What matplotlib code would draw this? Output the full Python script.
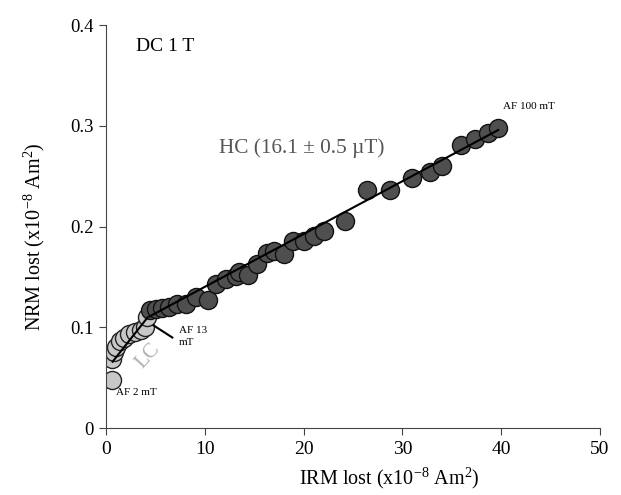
import matplotlib
matplotlib.use("Agg")
import matplotlib.pyplot as plt

plt.rcParams['font.family'] = ['Liberation Serif', 'DejaVu Serif']
plt.rcParams['mathtext.fontset'] = 'custom'
plt.rcParams['mathtext.rm'] = 'Liberation Serif'

# low coercivity steps (AF 2 mT .. AF 13 mT)
lc_irm = [0.6, 0.55, 0.8, 1.0, 1.35, 1.85, 2.35, 2.9, 3.5, 3.9, 4.1]
lc_nrm = [0.048, 0.069, 0.076, 0.081, 0.087, 0.090, 0.093, 0.095, 0.097, 0.100, 0.110]

# high coercivity steps (AF 13 mT .. AF 100 mT)
hc_irm = [4.4, 5.05, 5.7, 6.4, 7.2, 8.1, 9.1, 10.3, 11.1, 12.1, 13.1, 13.5, 14.4,
          15.3, 16.3, 17.0, 18.0, 18.9, 20.0, 21.0, 22.1, 24.2, 26.4, 28.7,
          31.0, 32.8, 34.0, 35.9, 37.4, 38.7, 39.7]
hc_nrm = [0.117, 0.118, 0.119, 0.120, 0.123, 0.123, 0.130, 0.127, 0.143, 0.148,
          0.151, 0.155, 0.152, 0.163, 0.174, 0.176, 0.173, 0.186, 0.186, 0.191,
          0.196, 0.206, 0.236, 0.236, 0.248, 0.254, 0.260, 0.281, 0.287, 0.293,
          0.298]

# fitted segments
lc_fit_x = [0.65, 4.2]
lc_fit_y = [0.066, 0.110]
hc_fit_x = [4.4, 39.7]
hc_fit_y = [0.111, 0.296]

fig = plt.figure(figsize=(6.21, 4.95), dpi=100)
ax = fig.add_axes([0.171, 0.135, 0.795, 0.814])

ax.plot(lc_irm, lc_nrm, 'o', ms=13, mfc='#c8c8c8', mec='#222222', mew=1, zorder=2)
ax.plot(hc_irm, hc_nrm, 'o', ms=13, mfc='#4f4f4f', mec='#111111', mew=1, zorder=3)
ax.plot(lc_fit_x, lc_fit_y, color='black', lw=1.5, zorder=4)
ax.plot(hc_fit_x, hc_fit_y, color='black', lw=1.5, zorder=4)

ax.set_xlim(0, 50)
ax.set_ylim(0, 0.4)
ax.set_xticks([0, 10, 20, 30, 40, 50])
ax.set_yticks([0, 0.1, 0.2, 0.3, 0.4])
ax.set_yticklabels(['0', '0.1', '0.2', '0.3', '0.4'])
ax.spines['top'].set_visible(False)
ax.spines['right'].set_visible(False)
for s in ['left', 'bottom']:
    ax.spines[s].set_color('#444444')
ax.tick_params(direction='out', length=5, color='#444444', pad=4)
ax.tick_params(axis='x', labelsize=14)
ax.tick_params(axis='y', labelsize=13.5)

ax.set_xlabel('IRM lost (x10$^{\\mathrm{-8}}$ Am$^{\\mathrm{2}}$)', fontsize=14.5)
ax.set_ylabel('NRM lost (x10$^{\\mathrm{-8}}$ Am$^{\\mathrm{2}}$)', fontsize=14.5)
ax.xaxis.set_label_coords(0.573, -0.092)
ax.yaxis.set_label_coords(-0.12, 0.474)

ax.text(3.0, 0.379, 'DC 1 T', fontsize=14, va='center')
ax.text(11.4, 0.278, 'HC (16.1 \u00b1 0.5 \u00b5T)', fontsize=15.3, color='#555555', va='center')
ax.text(4.2, 0.0715, 'LC', fontsize=15, color='#b0b0b0', rotation=48, ha='center', va='center')
ax.text(1.0, 0.035, 'AF 2 mT', fontsize=8, va='center')
ax.text(7.4, 0.091, 'AF 13\nmT', fontsize=8, va='center', linespacing=1.4)
ax.text(40.2, 0.319, 'AF 100 mT', fontsize=8, va='center')
ax.plot([4.8, 6.7], [0.102, 0.090], color='black', lw=1.5, zorder=5)

fig.savefig('out.png', dpi=100)
